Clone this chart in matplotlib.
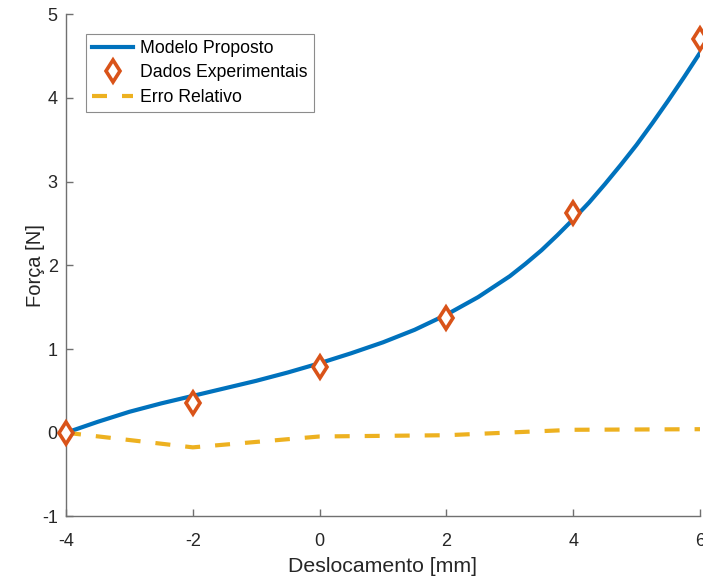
import matplotlib
matplotlib.use("Agg")
import matplotlib.pyplot as plt

plt.rcParams['font.family'] = ['Liberation Sans', 'DejaVu Sans']
plt.rcParams['axes.unicode_minus'] = False

# modelo (curva suave)
x_model = [-4, -3.5, -3, -2.5, -2, -1.5, -1, -0.5, 0, 0.5, 1, 1.5, 2,
           2.5, 3, 3.25, 3.5, 3.75, 4, 4.25, 4.5, 4.75, 5, 5.25, 5.5, 5.75, 6]
f_model = [0.00, 0.13, 0.25, 0.35, 0.44, 0.53, 0.62, 0.72, 0.83, 0.95, 1.08,
           1.23, 1.41, 1.62, 1.87, 2.02, 2.18, 2.36, 2.55, 2.75, 2.97, 3.20,
           3.44, 3.70, 3.97, 4.25, 4.54]

# dados experimentais
x_exp = [-4, -2, 0, 2, 4, 6]
f_exp = [0.00, 0.36, 0.79, 1.37, 2.62, 4.71]

# erro relativo
err_rel = [0.00, -0.175, -0.045, -0.03, 0.035, 0.042]

blue = '#0072BD'
orange = '#D95319'
yellow = '#EDB120'
axis_gray = '#707070'
text_gray = '#262626'

fig = plt.figure(figsize=(7.03, 5.81), dpi=100)
ax = fig.add_axes([0.0939, 0.1112, 0.9018, 0.8642])

ax.plot(x_model, f_model, '-', color=blue, linewidth=3,
        solid_joinstyle='round', label='Modelo Proposto')
ax.plot(x_exp, f_exp, linestyle='none', marker='d', markersize=11.5,
        markerfacecolor='white', markeredgecolor=orange, markeredgewidth=2.6,
        clip_on=False, zorder=5, label='Dados Experimentais')
ax.plot(x_exp, err_rel, color=yellow, linewidth=3, linestyle=(0, (3.6, 3.6)),
        label='Erro Relativo')

ax.set_xlim(-4, 6)
ax.set_ylim(-1, 5)
ax.set_xticks([-4, -2, 0, 2, 4, 6])
ax.set_yticks([-1, 0, 1, 2, 3, 4, 5])

for side in ['top', 'right']:
    ax.spines[side].set_visible(False)
for side in ['left', 'bottom']:
    ax.spines[side].set_color(axis_gray)
    ax.spines[side].set_linewidth(1.0)

ax.tick_params(direction='in', length=5, width=1.0, color=axis_gray,
               labelsize=13, labelcolor=text_gray)
ax.tick_params(axis='x', pad=12)
ax.tick_params(axis='y', pad=6)

ax.set_xlabel('Deslocamento [mm]', fontsize=15.3, color=text_gray, labelpad=5)
ax.set_ylabel('Força [N]', fontsize=14.5, color=text_gray, labelpad=-2)

leg = ax.legend(loc='upper left', bbox_to_anchor=(0.031, 0.961), fontsize=12.7,
                frameon=True, fancybox=False, handlelength=2.35,
                handletextpad=0.4, borderpad=0.35, labelspacing=0.42,
                borderaxespad=0)
leg.get_frame().set_edgecolor(axis_gray)
leg.get_frame().set_linewidth(0.8)

fig.savefig('out.png', dpi=100)
